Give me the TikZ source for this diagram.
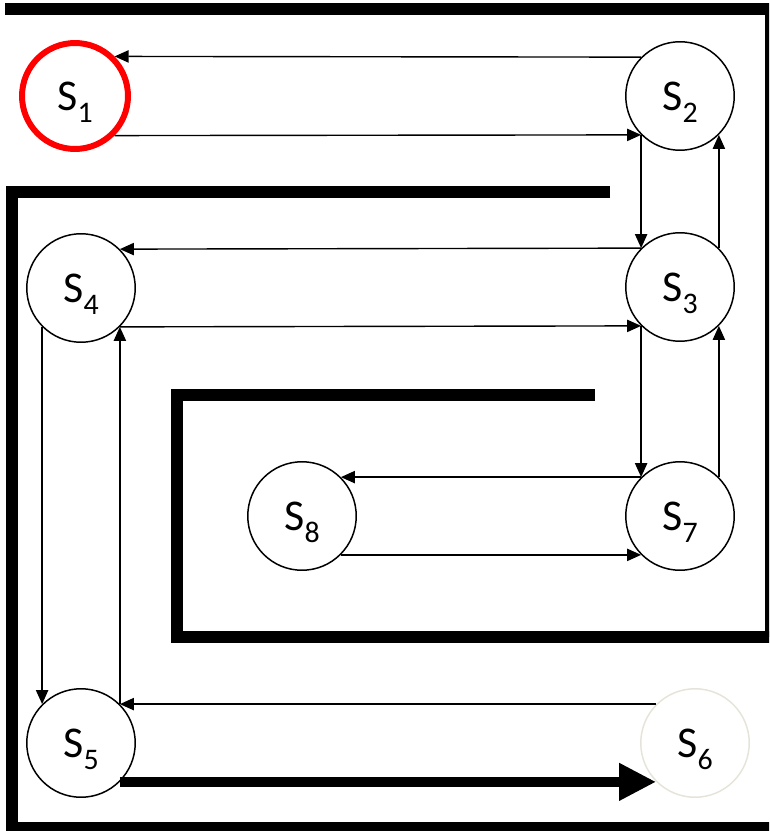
\documentclass[tikz,border=0pt]{standalone}
\usepackage{fontspec}
\setmainfont{Carlito}
\usetikzlibrary{arrows.meta}
\definecolor{pale}{RGB}{230,228,218}
\newcommand{\lbl}[1]{S\raisebox{-.27em}{\fontsize{17}{17}\selectfont #1}}

\begin{document}
\begin{tikzpicture}[x=.02cm, y=-.02cm,
	line/.style={>={Triangle[length=8pt,width=7pt]}, line width=.8pt},
	wall/.style={line width=6.8pt},
	st/.style={circle, draw, line width=.85pt, minimum size=2.17cm, inner sep=0pt, text depth=0pt, font=\fontsize{25}{30}\selectfont}]
	\clip (0,0) rectangle (769,831);
	\node[st, draw=red, line width=3.4pt, minimum size=2.12cm] (S1) at (75,96) {\lbl{1}};
	\node[st] (S2) at (680,96) {\lbl{2}};
	\node[st] (S3) at (680,287) {\lbl{3}};
	\node[st] (S4) at (81,288) {\lbl{4}};
	\node[st] (S5) at (81,743) {\lbl{5}};
	\node[st, draw=pale] (S6) at (695,743) {\lbl{6}};
	\node[st] (S7) at (680,516) {\lbl{7}};
	\node[st] (S8) at (302,516) {\lbl{8}};
	\draw[wall] (5,9) -- (771,9) -- (771,637);
	\draw[wall] (610,192) -- (12,192) -- (12,828) -- (775,828);
	\draw[wall] (595,395) -- (177,395) -- (177,637) -- (775,637);
	\draw[->, line] (S2.135) -- (S1.45);
	\draw[->, line] (S1.315) -- (S2.225);
	\draw[->, line] (S2.225) -- (S3.135);
	\draw[->, line] (S3.45) -- (S2.315);
	\draw[->, line] (S3.135) -- (S4.45);
	\draw[->, line] (S4.315) -- (S3.225);
	\draw[->, line] (S3.225) -- (S7.135);
	\draw[->, line] (S7.45) -- (S3.315);
	\draw[->, line] (S7.135) -- (S8.45);
	\draw[->, line] (S8.315) -- (S7.225);
	\draw[->, line] (S4.225) -- (S5.135);
	\draw[->, line] (S5.45) -- (S4.315);
	\draw[->, line] (S6.135) -- (S5.45);
	\draw[->, line, line width=6pt, >={Triangle[length=21pt,width=20pt]}] (S5.315) -- (S6.225);
\end{tikzpicture}
\end{document}
